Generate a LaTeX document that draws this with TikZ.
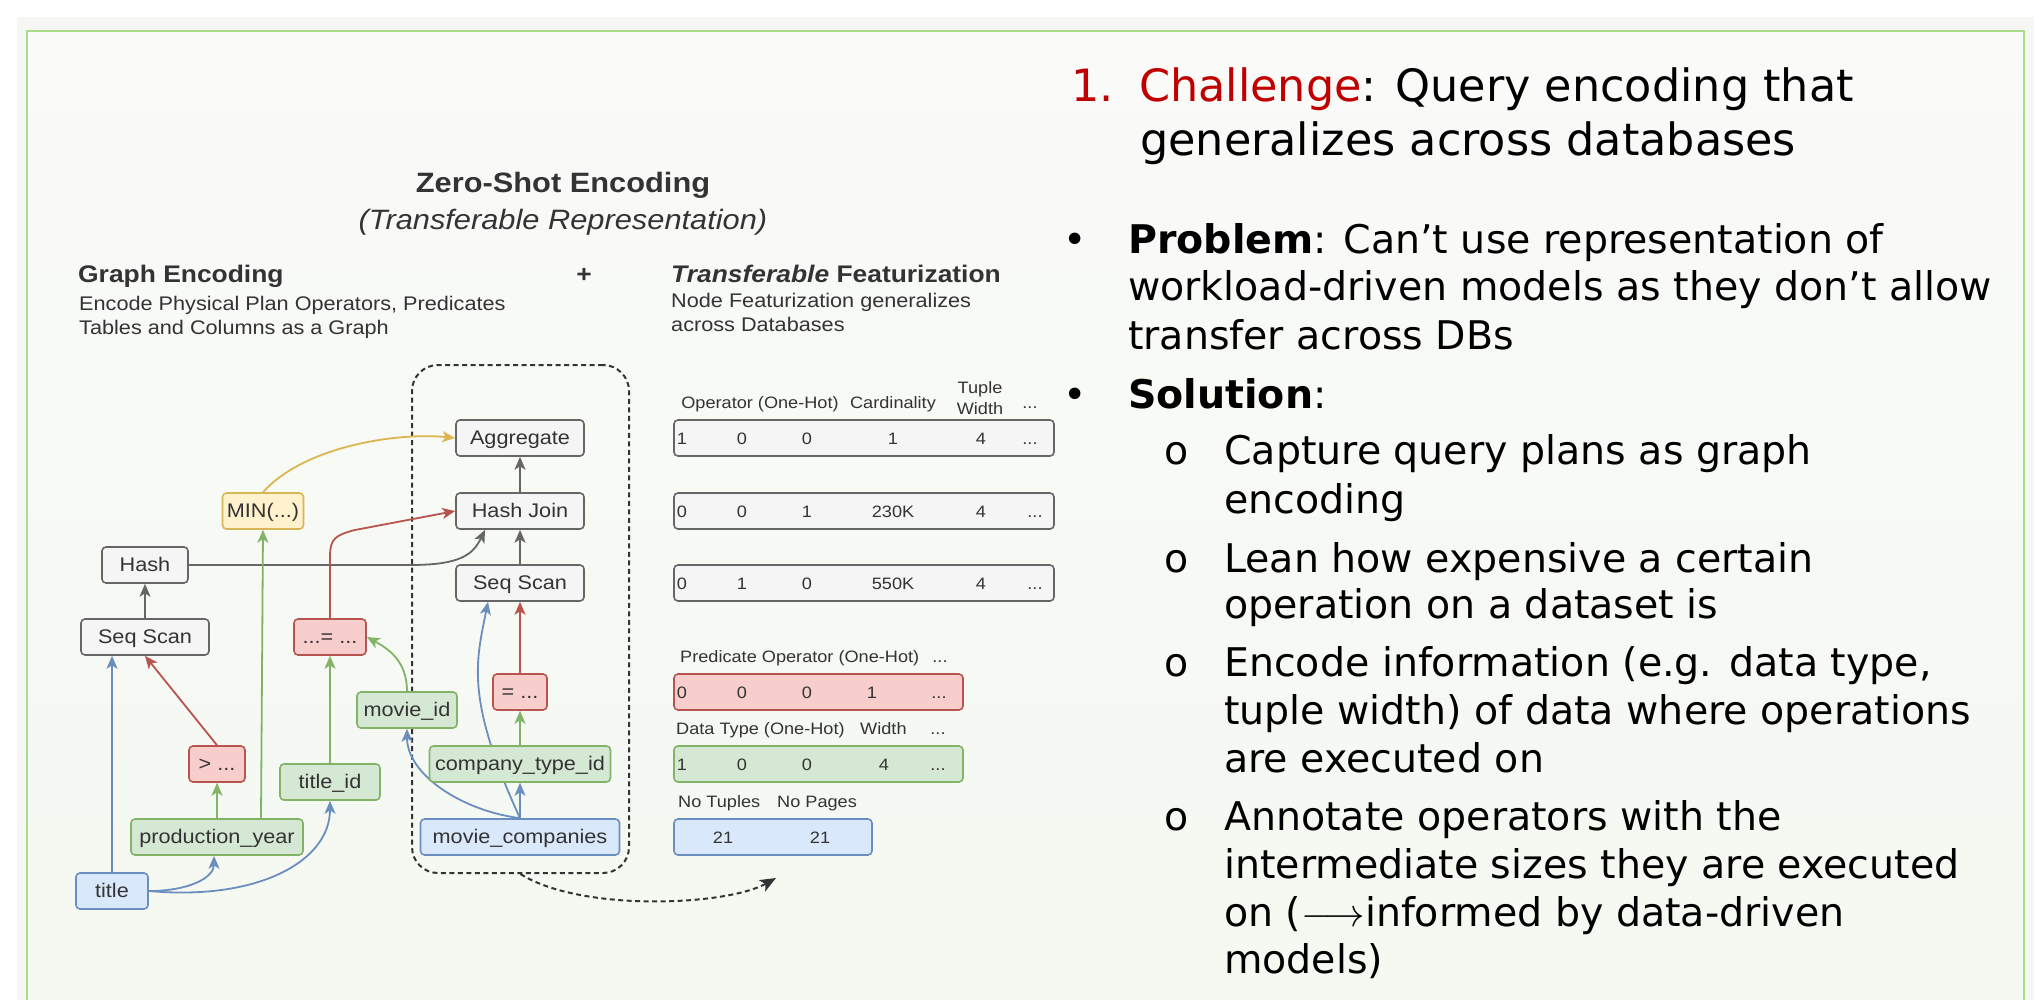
\RequirePackage{fix-cm}
\documentclass[tikz,border=0pt]{standalone}
\usepackage{fontspec}
\setmainfont{DejaVu Sans}
\newfontfamily\dfont[FakeStretch=1.1]{Liberation Sans}
\usetikzlibrary{arrows.meta,calc}
\newcommand\tdots{...}
\definecolor{txt}{HTML}{333333}
\definecolor{gS}{HTML}{666666}\definecolor{gF}{HTML}{F5F5F5}
\definecolor{rS}{HTML}{B85450}\definecolor{rF}{HTML}{F8CECC}
\definecolor{grS}{HTML}{82B366}\definecolor{grF}{HTML}{D5E8D4}
\definecolor{bS}{HTML}{6C8EBF}\definecolor{bF}{HTML}{DAE8FC}
\definecolor{yS}{HTML}{D6B656}\definecolor{yF}{HTML}{FFF2CC}
\definecolor{yE}{HTML}{DDB54F}
\definecolor{frameC}{HTML}{A8DB8A}
\definecolor{chred}{HTML}{C00000}
\definecolor{dk}{HTML}{333333}
\definecolor{shadowC}{HTML}{F6F7F4}
\definecolor{bgTop}{HTML}{FAFAF9}
\definecolor{bgBot}{HTML}{F4F9F1}
\pgfdeclarelayer{bg}\pgfdeclarelayer{edges}
\pgfsetlayers{bg,edges,main}
\tikzset{
  dnode/.style={draw, rounded corners=4pt, line width=1.6pt, minimum height=36pt, inner sep=0pt,
    text height=15pt, text depth=3pt, text=txt, font=\dfont\fontsize{19.7pt}{23pt}\selectfont},
  graynode/.style={dnode, draw=gS, fill=gF},
  rednode/.style={dnode, draw=rS, fill=rF},
  greennode/.style={dnode, draw=grS, fill=grF},
  bluenode/.style={dnode, draw=bS, fill=bF},
  yellownode/.style={dnode, draw=yS, fill=yF},
  rowbox/.style={draw, rounded corners=4pt, line width=1.6pt, minimum height=36pt, inner sep=0pt},
  tval/.style={anchor=base, inner sep=0pt, text=txt, font=\dfont\fontsize{16.5pt}{19pt}\selectfont},
  tlab/.style={anchor=base west, inner sep=0pt, text=txt, font=\dfont\fontsize{16.5pt}{19pt}\selectfont},
  hd/.style={inner sep=0pt, text=txt, font=\dfont\fontsize{24pt}{28pt}\selectfont},
  sub/.style={anchor=base west, inner sep=0pt, text=txt, font=\dfont\fontsize{19.7pt}{24pt}\selectfont},
  rt/.style={anchor=base west, inner sep=0pt, text=black, font=\fontsize{39.5pt}{48pt}\selectfont},
  rh/.style={anchor=base west, inner sep=0pt, text=black, font=\fontsize{44.5pt}{54pt}\selectfont},
  arr/.style={line width=1.8pt, -{Stealth[length=13pt,width=11pt,inset=3.5pt]}},
  grayedge/.style={arr, draw=gS},
  rededge/.style={arr, draw=rS},
  greenedge/.style={arr, draw=grS},
  blueedge/.style={arr, draw=bS},
  yellowedge/.style={arr, draw=yE},
  dashedge/.style={draw=dk, line width=2pt, dash pattern=on 5pt off 3.5pt}
}
\begin{document}
\begin{tikzpicture}[x=1pt,y=-1pt]
\useasboundingbox (0,0) rectangle (2039,1000);
\begin{pgfonlayer}{bg}
\fill[white] (0,0) rectangle (2039,1000);
\fill[shadowC] (17,17) rectangle (2034,1000);
\shade[top color=bgTop, bottom color=bgBot] (27,31) rectangle (2024,1000);
\draw[frameC, line width=2pt] (27,1002) -- (27,31) -- (2024,31) -- (2024,1002);
\end{pgfonlayer}

% ---------- headings of the diagram ----------
\node[hd, anchor=base, font=\dfont\bfseries\fontsize{28pt}{32pt}\selectfont] (zs) at (563,193) {Zero-Shot Encoding};
\node[hd, anchor=base, font=\dfont\itshape\fontsize{28pt}{32pt}\selectfont] (tr) at (563,230) {(Transferable Representation)};
\node[hd, anchor=base west, font=\dfont\bfseries\fontsize{24pt}{28pt}\selectfont] (ge) at (78,283) {Graph Encoding};
\node[sub] (ge1) at (79,310) {Encode Physical Plan Operators, Predicates};
\node[sub] (ge2) at (79,334) {Tables and Columns as a Graph};
\node[hd, anchor=base, font=\dfont\bfseries\fontsize{24pt}{28pt}\selectfont] (plus) at (584,283) {+};
\node[hd, anchor=base west, font=\dfont\bfseries\fontsize{24pt}{28pt}\selectfont] (tf) at (671,283) {\textit{Transferable} Featurization};
\node[sub] (tf1) at (671,307) {Node Featurization generalizes};
\node[sub] (tf2) at (671,331) {across Databases};

% ---------- dashed group ----------
\begin{pgfonlayer}{edges}
\node[dashedge, rounded corners=26pt, minimum width=217pt, minimum height=508pt, inner sep=0pt] (dbox) at (520.5,619) {};
\end{pgfonlayer}

% ---------- graph nodes ----------
\node[graynode, minimum width=128pt] (agg) at (520,438) {Aggregate};
\node[graynode, minimum width=128pt] (hj) at (520,511) {Hash Join};
\node[graynode, minimum width=128pt] (ssr) at (520,583) {Seq Scan};
\node[rednode, minimum width=54pt] (eqr) at (520,692) {= \tdots};
\node[greennode, minimum width=181pt] (ctid) at (520,764) {company\_type\_id};
\node[bluenode, minimum width=199pt] (mc) at (520,837) {movie\_companies};
\node[greennode, minimum width=100pt] (mid) at (407,710) {movie\_id};
\node[rednode, minimum width=72pt] (jeq) at (330,637) {\tdots= \tdots};
\node[greennode, minimum width=100pt] (tid) at (330,782) {title\_id};
\node[yellownode, minimum width=81pt] (minn) at (263,511) {MIN(\tdots)};
\node[graynode, minimum width=86pt] (hash) at (145,565) {Hash};
\node[graynode, minimum width=128pt] (ssl) at (145,637) {Seq Scan};
\node[rednode, minimum width=56pt] (gt) at (217,764) {> \tdots};
\node[greennode, minimum width=172pt] (py) at (217,837) {production\_year};
\node[bluenode, minimum width=72pt] (title) at (112,891) {title};

% ---------- edges ----------
\begin{pgfonlayer}{edges}
\draw[grayedge] (hj.north) -- (agg.south);
\draw[grayedge] (ssr.north) -- (hj.south);
\draw[grayedge] (ssl.north) -- (hash.south);
\draw[grayedge] (hash.east) -- ($(hash.east -| ssr.west)+(-45,0)$) .. controls +(50,0) and +(-12,25) .. ($(hj.south)+(-35,0)$);
\draw[yellowedge] (minn.north) .. controls +(40,-45) and +(-60,-6) .. (agg.west);
\draw[rededge] (jeq.north) -- ++(0,-62) .. controls +(0,-18) and +(-18,5) .. ++(24,-26) -- (hj.west);
\draw[rededge] (gt.north) -- (ssl.south);
\draw[rededge] (eqr.north) -- (ssr.south);
\draw[greenedge] (py.north) -- (gt.south);
\draw[greenedge] ($(py.north)+(44,0)$) -- (minn.south);
\draw[greenedge] (tid.north) -- (jeq.south);
\draw[greenedge] (mid.north) .. controls +(0,-30) and +(22,12) .. (jeq.east);
\draw[greenedge] (ctid.north) -- (eqr.south);
\draw[blueedge] (title.north) -- (title.north |- ssl.south);
\draw[blueedge] (title.east) .. controls +(40,0) and +(0,22) .. ($(py.south)+(-3,0)$);
\draw[blueedge] (title.east) .. controls +(110,10) and +(0,60) .. (tid.south);
\draw[blueedge] (mc.north) -- (ctid.south);
\draw[blueedge] (mc.north) .. controls +(-60,-8) and +(0,45) .. (mid.south);
\draw[blueedge] (mc.north) .. controls +(-55,-120) and +(-12,60) .. ($(ssr.south)+(-32,0)$);
\coordinate (dtip) at (776,878);
\draw[dashedge, -{Stealth[length=16pt,width=13pt,inset=4pt]}] (dbox.south) .. controls +(60,38) and +(-50,28) .. (dtip);
\end{pgfonlayer}

% ---------- feature table ----------
\node[tval] (hop) at (760,408) {Operator (One-Hot)};
\node[tval] (hcard) at (893,408) {Cardinality};
\node[tval] (htup) at (980,393) {Tuple};
\node[tval] (hwid) at (980,414) {Width};
\node[tval] (hdots) at (1030,408) {\tdots};
\node[rowbox, draw=gS, fill=gF, minimum width=380pt] (r1) at (864,438) {};
\node[rowbox, draw=gS, fill=gF, minimum width=380pt] (r2) at (864,511) {};
\node[rowbox, draw=gS, fill=gF, minimum width=380pt] (r3) at (864,583) {};
\foreach \x/\t [count=\i] in {682/1,742/0,807/0,893/1,981/4,1030/\tdots}
  \node[tval] (ra\i) at (\x,444) {\t};
\foreach \x/\t [count=\i] in {682/0,742/0,807/1,893/230K,981/4,1035/\tdots}
  \node[tval] (rb\i) at (\x,517) {\t};
\foreach \x/\t [count=\i] in {682/0,742/1,807/0,893/550K,981/4,1035/\tdots}
  \node[tval] (rc\i) at (\x,589) {\t};

\node[tlab] (pl) at (680,662) {Predicate Operator (One-Hot)};
\node[tval] (pld) at (940,662) {\tdots};
\node[rowbox, draw=rS, fill=rF, minimum width=289pt] (pr) at (818.5,692) {};
\foreach \x/\t [count=\i] in {682/0,742/0,807/0,872/1,939/\tdots}
  \node[tval] (pv\i) at (\x,698) {\t};

\node[tlab] (dl) at (676,734) {Data Type (One-Hot)};
\node[tlab] (dw) at (860,734) {Width};
\node[tval] (dld) at (938,734) {\tdots};
\node[rowbox, draw=grS, fill=grF, minimum width=289pt] (gr) at (818.5,764) {};
\foreach \x/\t [count=\i] in {682/1,742/0,807/0,884/4,938/\tdots}
  \node[tval] (gv\i) at (\x,770) {\t};

\node[tlab] (nt) at (678,807) {No Tuples};
\node[tlab] (np) at (777,807) {No Pages};
\node[rowbox, draw=bS, fill=bF, minimum width=198pt] (br) at (773,837) {};
\node[tval] (bv1) at (723,843) {21};
\node[tval] (bv2) at (820,843) {21};

% ---------- right text ----------
\node[rh, text=chred] (h1n) at (1071,102) {1.};
\node[rh] (h1) at (1139,102) {\textcolor{chred}{Challenge}: Query encoding that};
\node[rh] (h2) at (1140,156) {generalizes across databases};

\node[rt] (b1) at (1063,254) {•};
\node[rt] (p1) at (1128,254) {\textbf{Problem}: Can’t use representation of};
\node[rt] (p2) at (1128,301) {workload-driven models as they don’t allow};
\node[rt] (p3) at (1128,349) {transfer across DBs};
\node[rt] (b2) at (1063,408) {•};
\node[rt] (s0) at (1128,408) {\textbf{Solution}:};

\node[rt] (o1) at (1164,464) {o};
\node[rt] (s1a) at (1224,464) {Capture query plans as graph};
\node[rt] (s1b) at (1224,513) {encoding};
\node[rt] (o2) at (1164,572) {o};
\node[rt] (s2a) at (1224,572) {Lean how expensive a certain};
\node[rt] (s2b) at (1224,618) {operation on a dataset is};
\node[rt] (o3) at (1164,676) {o};
\node[rt] (s3a) at (1224,676) {Encode information (e.g. data type,};
\node[rt] (s3b) at (1224,724) {tuple width) of data where operations};
\node[rt] (s3c) at (1224,772) {are executed on};
\node[rt] (o4) at (1164,830) {o};
\node[rt] (s4a) at (1224,830) {Annotate operators with the};
\node[rt] (s4b) at (1224,878) {intermediate sizes they are executed};
\node[rt] (s4c) at (1224,926) {on ($\longrightarrow$informed by data-driven};
\node[rt] (s4d) at (1224,973) {models)};
\end{tikzpicture}
\end{document}
